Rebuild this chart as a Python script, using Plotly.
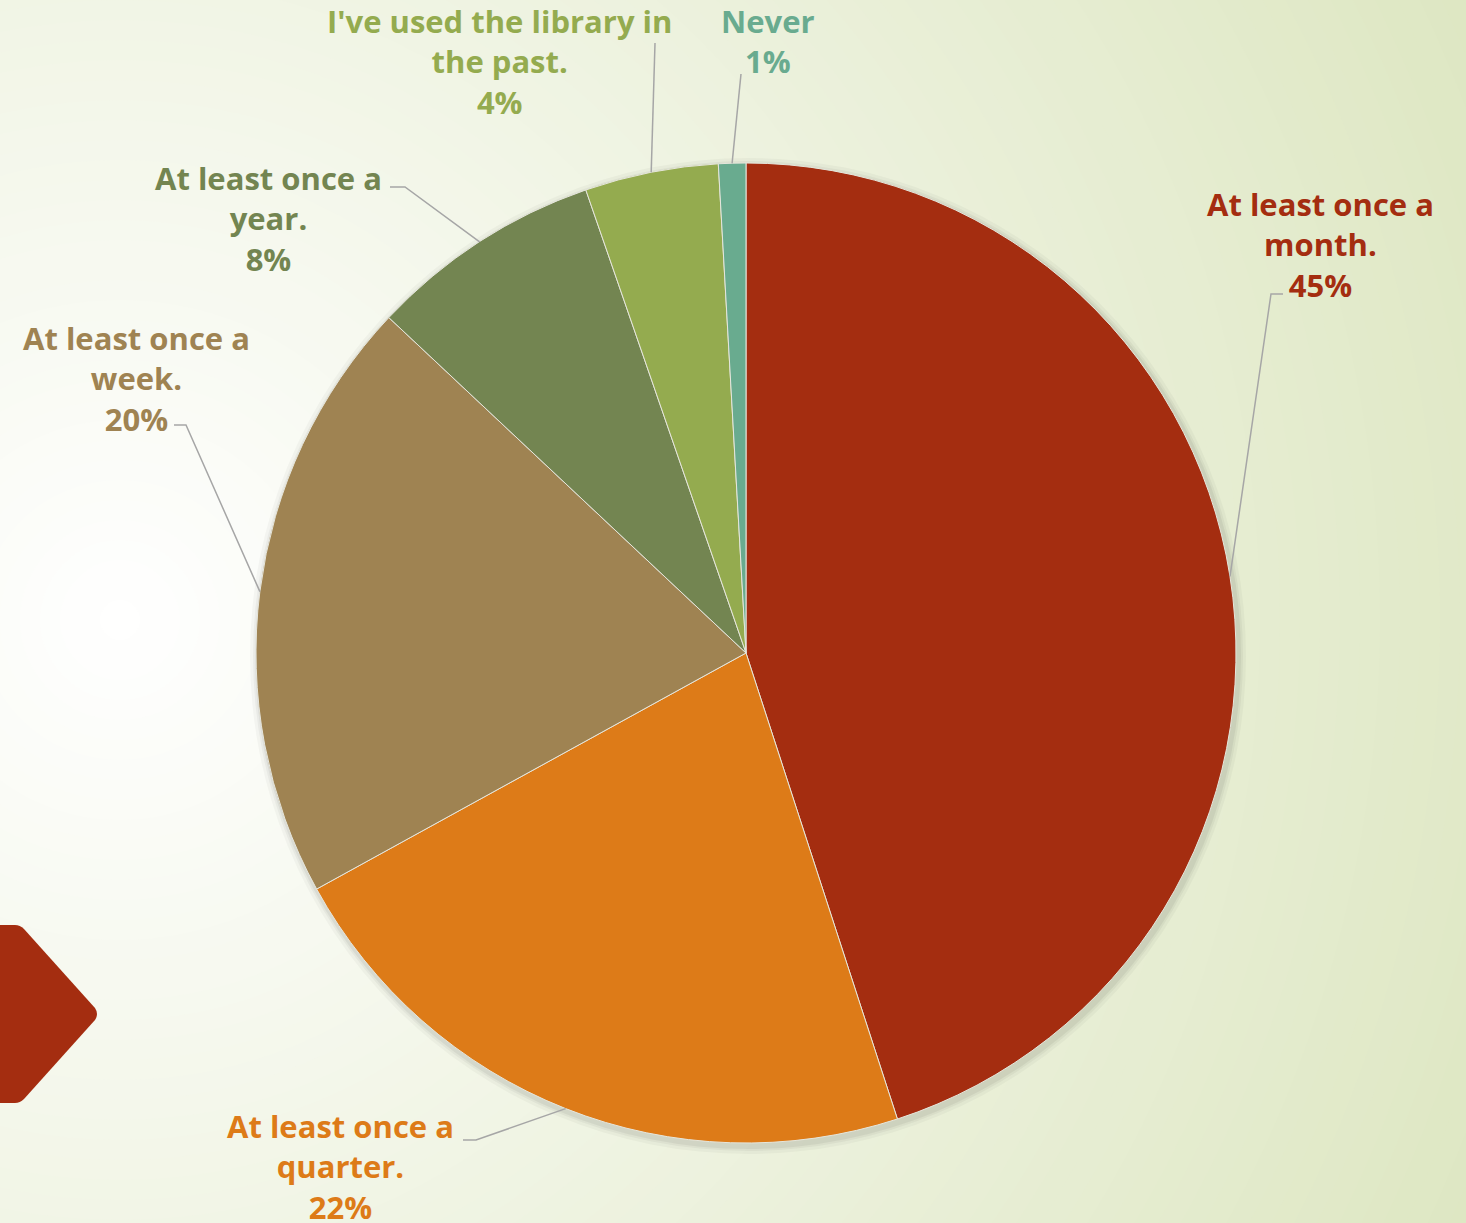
import math
import plotly.graph_objects as go

labels = ["At least once a month.", "At least once a quarter.", "At least once a week.",
          "At least once a year.", "I've used the library in the past.", "Never"]
label_lines = ["At least once a<br>month.", "At least once a<br>quarter.", "At least once a<br>week.",
               "At least once a<br>year.", "I've used the library in<br>the past.", "Never"]
values = [45, 22, 20, 7.7, 4.4, 0.9]
colors = ["#A42D10", "#DD7B18", "#9F8352", "#738551", "#94AB4F", "#69AB8F"]

W, H = 1466, 1223
CX, CY, R = 746, 653, 490

# where each label sits (centre of text block) and the elbow of its leader line
label_pos = [(1320, 244), (340, 1166), (136, 378), (268, 218), (499, 61), (768, 41)]
elbows = [[(1271, 294), (1283, 294)], [(476, 1140), (463, 1140)], [(186, 425), (174, 425)],
          [(405, 187), (390, 187)], [(655, 43)], [(741, 74)]]


def mix(c1, c2, t):
    a = [int(c1[i:i + 2], 16) for i in (1, 3, 5)]
    b = [int(c2[i:i + 2], 16) for i in (1, 3, 5)]
    return "#%02x%02x%02x" % tuple(round(a[k] + (b[k] - a[k]) * t) for k in range(3))


shapes = []
# radial background, white on the left fading to pale green
gx, gy, rmax = 120, 620, 1500
steps = 75
for i in range(steps, 0, -1):
    r = rmax * i / steps
    t = min(1, r / 1480)
    shapes.append(dict(type="circle", xref="x", yref="y", x0=gx - r, x1=gx + r, y0=gy - r, y1=gy + r,
                       fillcolor=mix("#FFFFFF", "#DEE7C3", t), line_width=0, layer="below"))

# soft shadow under the pie
for k, op in [(8, 0.03), (5, 0.04), (3, 0.05)]:
    shapes.append(dict(type="circle", xref="x", yref="y", x0=CX - R - k + 2, x1=CX + R + k + 2,
                       y0=CY - R - k + 3, y1=CY + R + k + 3, fillcolor="rgba(0,0,0,%s)" % op,
                       line_width=0, layer="below"))

# arrow marker bottom left
shapes.append(dict(type="path", xref="x", yref="y", layer="above", line_width=0, fillcolor="#A42D10",
                   path="M 0 925 L 15 925 Q 20 925 24 929 L 95 1008 Q 99 1014 95 1020 "
                        "L 24 1099 Q 20 1103 15 1103 L 0 1103 Z"))

total = sum(values)
annotations = []
cum = 0
for i, v in enumerate(values):
    mid = (cum + v / 2) / total * 2 * math.pi
    cum += v
    ex, ey = CX + R * math.sin(mid), CY - R * math.cos(mid)
    pts = [(ex, ey)] + elbows[i]
    path = "M %.1f %.1f " % pts[0] + " ".join("L %.1f %.1f" % p for p in pts[1:])
    shapes.append(dict(type="path", xref="x", yref="y", path=path, layer="above",
                       line=dict(color="#A6A6A6", width=1.5)))
    pct = round(v / total * 100)
    annotations.append(dict(x=label_pos[i][0], y=label_pos[i][1], xref="x", yref="y",
                            text="%s<br>%d%%" % (label_lines[i], pct), showarrow=False,
                            xanchor="center", yanchor="middle", align="center",
                            font=dict(family="Open Sans", size=31, color=colors[i], weight="bold")))

fig = go.Figure()
fig.add_trace(go.Pie(labels=labels, values=values, sort=False, direction="clockwise", rotation=0,
                     marker=dict(colors=colors, line=dict(color="#E6E6DC", width=1)),
                     textinfo="none", hoverinfo="label+percent", showlegend=False,
                     domain=dict(x=[(CX - R) / W, (CX + R) / W], y=[1 - (CY + R) / H, 1 - (CY - R) / H])))

fig.update_layout(width=W, height=H, margin=dict(l=0, r=0, t=0, b=0),
                  paper_bgcolor="#FFFFFF", plot_bgcolor="rgba(0,0,0,0)",
                  xaxis=dict(range=[0, W], visible=False, domain=[0, 1], fixedrange=True),
                  yaxis=dict(range=[H, 0], visible=False, domain=[0, 1], fixedrange=True),
                  shapes=shapes, annotations=annotations)

fig.write_html("out.html", config={"displayModeBar": False},
               post_script="document.body.style.margin='0';document.body.style.overflow='hidden';")
